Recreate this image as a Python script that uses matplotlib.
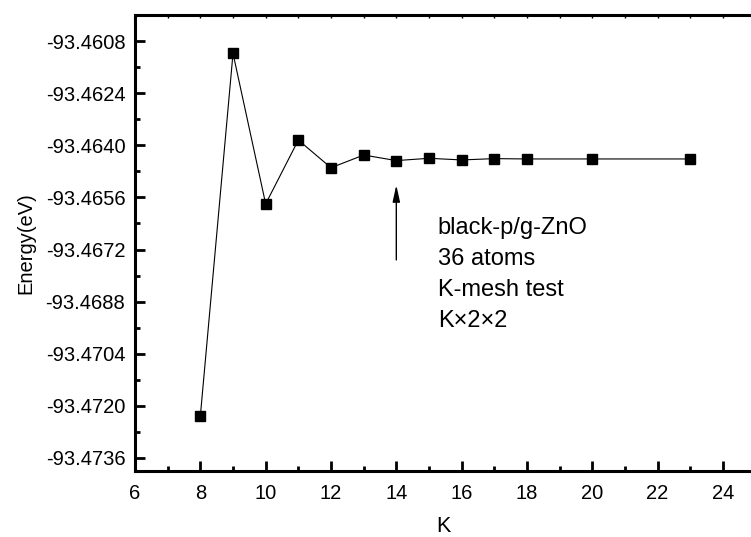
import matplotlib
matplotlib.use('Agg')
from matplotlib import pyplot as plt
from matplotlib.ticker import FixedLocator, MultipleLocator

plt.rcParams['font.family'] = ['Liberation Sans', 'DejaVu Sans']

# K-mesh convergence data
k = [8, 9, 10, 11, 12, 13, 14, 15, 16, 17, 18, 20, 23]
energy = [-93.47231, -93.46118, -93.46580, -93.46384, -93.46469, -93.46430,
          -93.46447, -93.46440, -93.46445, -93.46441, -93.46442, -93.46442,
          -93.46442]

x_ticks = [6, 8, 10, 12, 14, 16, 18, 20, 22, 24]
y_ticks = [-93.4736, -93.4720, -93.4704, -93.4688, -93.4672, -93.4656,
           -93.4640, -93.4624, -93.4608]
y_minor = [-93.4728, -93.4712, -93.4696, -93.4680, -93.4664, -93.4648,
           -93.4632, -93.4616, -93.4600]

notes = ['black-p/g-ZnO', '36 atoms', 'K-mesh test', 'K×2×2']

fig = plt.figure(figsize=(7.51, 5.37), dpi=100)
ax = fig.add_axes([0.1798, 0.1229, 0.8202, 0.8492])

ax.plot(k, energy, color='black', linewidth=0.8, marker='s',
        markersize=7.5, markerfacecolor='black', markeredgecolor='black')

ax.set_xlim(6, 24.86)
ax.set_ylim(-93.4740, -93.4600)

ax.xaxis.set_major_locator(FixedLocator(x_ticks))
ax.xaxis.set_minor_locator(MultipleLocator(1))
ax.set_xticklabels([str(t) for t in x_ticks])
ax.yaxis.set_major_locator(FixedLocator(y_ticks))
ax.yaxis.set_minor_locator(FixedLocator(y_minor))
ax.set_yticklabels([f'{t:.4f}' for t in y_ticks])

ax.spines['right'].set_visible(False)
for s in ['left', 'bottom', 'top']:
    ax.spines[s].set_linewidth(2.2)

ax.tick_params(axis='both', which='major', direction='in', length=7,
               width=2, labelsize=14.5, pad=7)
ax.tick_params(axis='both', which='minor', direction='in', length=3.5,
               width=2)
ax.tick_params(axis='x', which='both', top=True, pad=9)
ax.tick_params(axis='y', which='both', right=False)

# faint ticks on the top axis
for t in ax.xaxis.get_major_ticks() + ax.xaxis.get_minor_ticks():
    t.tick2line.set_markersize(2.5)
    t.tick2line.set_markeredgewidth(1)
    t.tick2line.set_color('#888888')

ax.set_xlabel('K', fontsize=15.5, labelpad=10)
ax.set_ylabel('Energy(eV)', fontsize=14.5)
ax.yaxis.set_label_coords(-0.162, 0.5)

ax.annotate('', xy=(14, -93.46522), xytext=(14, -93.46752),
            arrowprops=dict(arrowstyle='-|>,head_length=1.0,head_width=0.22',
                            color='black', lw=1, shrinkA=0, shrinkB=0))

for i, line in enumerate(notes):
    ax.text(0.4915, 0.5329 - i * 0.068, line, transform=ax.transAxes,
            fontsize=17, va='center', ha='left')

fig.savefig('out.png', dpi=100)
